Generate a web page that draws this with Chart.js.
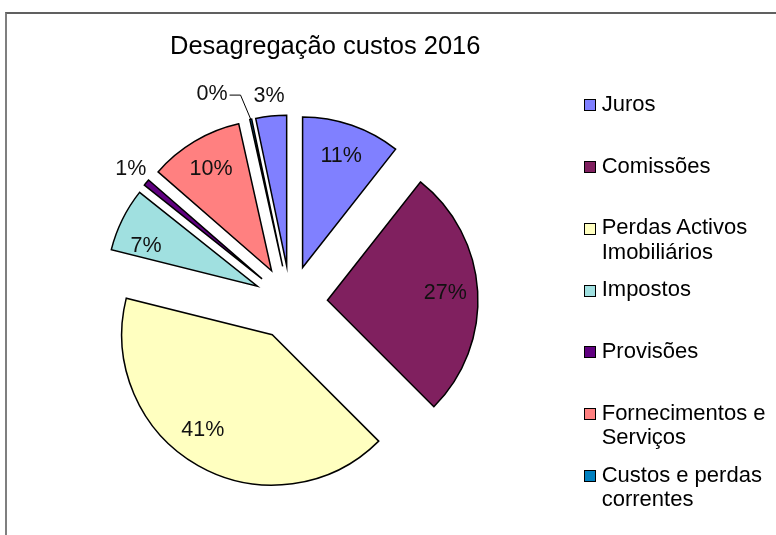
<!DOCTYPE html>
<html>
<head>
<meta charset="utf-8">
<script src="https://cdn.jsdelivr.net/npm/chart.js@4/dist/chart.umd.min.js"></script>
<style>
  html, body { margin: 0; padding: 0; background: #fff; overflow: hidden; }
  body { width: 776px; height: 535px; position: relative; font-family: "Liberation Sans", Arial, sans-serif; }
  #frame { position: absolute; left: 5px; top: 12px; width: 900px; height: 700px;
           border-left: 2px solid #7f7f7f; border-top: 2px solid #606060; }
  #c { position: absolute; left: 0; top: 0; }
  #title { position: absolute; left: 170px; top: 29.5px; font-size: 25.5px; line-height: 30px;
           color: #000; white-space: nowrap; }
  .lg { position: absolute; left: 583.5px; width: 192px; }
  .lg .box { position: absolute; left: 0; top: 7.5px; width: 10px; height: 10px;
             border: 1.5px solid #000; }
  .lg .txt { position: absolute; left: 18.2px; top: 0; width: 174px; font-size: 22px;
             line-height: 24.8px; color: #000; }
</style>
</head>
<body>
<div id="frame"></div>
<canvas id="c" width="776" height="535"></canvas>
<div id="title">Desagregação custos 2016</div>
<div id="legend"></div>
<script>
// ---- data ----
const categories = [
  "Juros",
  "Comissões",
  "Perdas Activos Imobiliários",
  "Impostos",
  "Provisões",
  "Fornecimentos e Serviços",
  "Custos e perdas correntes",
  ""
];
const values = [10.6, 26.9, 41.4, 6.8, 0.7, 10.1, 0.2, 3.3];
const colours = ["#8080FF", "#80205F", "#FFFFC0", "#A0E0E0", "#600080", "#FF8080", "#0080C0", "#8080FF"];
const titleText = "Desagregação custos 2016";

// ---- style constants ----
const RADIUS = 150.5;
const EXPLODE = 37;
const LABEL_FONT = '21.5px "Liberation Sans", Arial, sans-serif';
// small angular nudges (degrees) for in-slice label placement, as Excel's best-fit does
const LABEL_NUDGE_DEG = { 2: 6.5, 3: -6.5 };

document.getElementById('title').textContent = titleText;

// HTML legend built from categories / colours
const legend = document.getElementById('legend');
categories.forEach((name, i) => {
  if (!name) return;
  const item = document.createElement('div');
  item.className = 'lg';
  item.style.top = (91.7 + 61.8 * i) + 'px';
  const box = document.createElement('div');
  box.className = 'box';
  box.style.background = colours[i];
  const txt = document.createElement('div');
  txt.className = 'txt';
  txt.textContent = name;
  item.appendChild(box);
  item.appendChild(txt);
  legend.appendChild(item);
});

function shiftArcs(meta, sign) {
  meta.data.forEach(arc => {
    const mid = (arc.startAngle + arc.endAngle) / 2;
    arc.x += sign * EXPLODE * Math.cos(mid);
    arc.y += sign * EXPLODE * Math.sin(mid);
  });
}

const explodeAndLabels = {
  id: 'explodeAndLabels',
  beforeDatasetsDraw(chart) {
    shiftArcs(chart.getDatasetMeta(0), 1);
  },
  afterDatasetsDraw(chart) {
    const meta = chart.getDatasetMeta(0);
    const ctx = chart.ctx;
    const data = chart.data.datasets[0].data;
    const total = data.reduce((a, b) => a + b, 0);
    ctx.save();
    ctx.font = LABEL_FONT;
    ctx.fillStyle = '#111';
    ctx.textAlign = 'center';
    ctx.textBaseline = 'middle';
    meta.data.forEach((arc, i) => {
      const pct = Math.round(data[i] / total * 100);
      const txt = pct + '%';
      const mid = (arc.startAngle + arc.endAngle) / 2;
      const r = arc.outerRadius;
      if (pct === 0) {
        const ang = mid - 10 * Math.PI / 180;
        const lx = arc.x + 1.24 * r * Math.cos(ang);
        const ly = arc.y + 1.24 * r * Math.sin(ang);
        ctx.fillText(txt, lx, ly);
        const w = ctx.measureText(txt).width;
        const sx = lx + w / 2 + 2;
        const sy = ly + 1.5;
        ctx.beginPath();
        ctx.strokeStyle = '#000';
        ctx.lineWidth = 1;
        ctx.moveTo(sx, sy);
        ctx.lineTo(sx + 11, sy);
        ctx.lineTo(arc.x + r * Math.cos(mid), arc.y + r * Math.sin(mid));
        ctx.stroke();
      } else if (pct <= 3) {
        const lx = arc.x + 1.135 * r * Math.cos(mid);
        const ly = arc.y + 1.135 * r * Math.sin(mid);
        ctx.fillText(txt, lx, ly);
      } else {
        const ang = mid + (LABEL_NUDGE_DEG[i] || 0) * Math.PI / 180;
        const lx = arc.x + 0.785 * r * Math.cos(ang);
        const ly = arc.y + 0.785 * r * Math.sin(ang);
        ctx.fillText(txt, lx, ly);
      }
    });
    ctx.restore();
    shiftArcs(meta, -1);
  }
};

new Chart(document.getElementById('c'), {
  type: 'pie',
  data: {
    labels: categories,
    datasets: [{
      data: values,
      backgroundColor: colours,
      borderColor: '#000',
      borderWidth: 1.5,
      borderJoinStyle: 'miter',
      hoverOffset: 0,
      offset: 0
    }]
  },
  options: {
    responsive: false,
    animation: false,
    radius: RADIUS,
    layout: { padding: { left: 0, right: 195, top: 70, bottom: 0 } },
    plugins: {
      legend: { display: false },
      title: { display: false },
      tooltip: { enabled: false }
    },
    events: []
  },
  plugins: [explodeAndLabels]
});
</script>
</body>
</html>
